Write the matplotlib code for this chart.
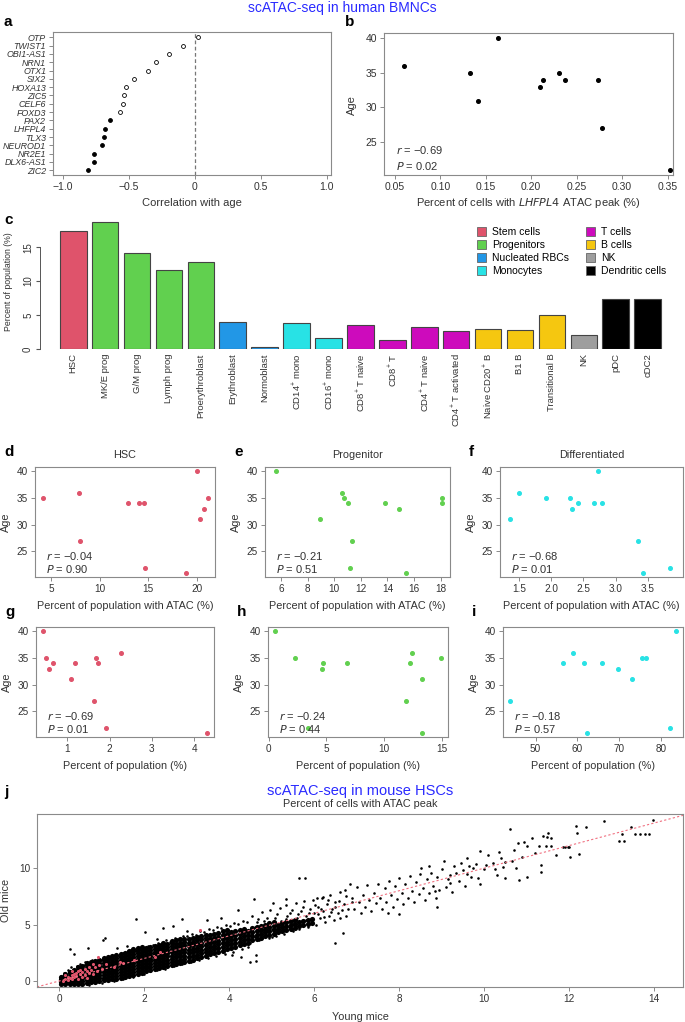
import matplotlib
matplotlib.use("Agg")
import matplotlib.pyplot as plt
from matplotlib.patches import Patch

W, H = 685, 1022
plt.rcParams['font.family'] = ['Liberation Sans', 'DejaVu Sans']
plt.rcParams['mathtext.default'] = 'regular'
NARROW = ['Liberation Sans Narrow', 'Liberation Sans', 'DejaVu Sans']

RED = '#DF536B'
GREEN = '#61D04F'
BLUE = '#2297E6'
CYAN = '#28E2E5'
MAGENTA = '#CD0BBC'
YELLOW = '#F5C710'
GREY = '#9E9E9E'
FRAME = '#8a8a8a'
TXT = '#333333'

# ---- panel a: correlation of gene ATAC peaks with age
genes = ['OTP', 'TWIST1', 'OBI1-AS1', 'NRN1', 'OTX1', 'SIX2', 'HOXA13', 'ZIC5', 'CELF6',
         'FOXD3', 'PAX2', 'LHFPL4', 'TLX3', 'NEUROD1', 'NR2E1', 'DLX6-AS1', 'ZIC2']
gene_corr = [0.03, -0.09, -0.19, -0.29, -0.35, -0.46, -0.52, -0.535, -0.545,
             -0.565, -0.64, -0.68, -0.685, -0.70, -0.765, -0.765, -0.81]
gene_signif = [False] * 10 + [True] * 7

# ---- panel b
lhfpl4_pct = [0.06, 0.133, 0.141, 0.163, 0.210, 0.213, 0.231, 0.237, 0.273, 0.278, 0.353]
lhfpl4_age = [36, 35, 31, 40, 33, 34, 35, 34, 34, 27, 21]

# ---- panel c
cell_types = ['HSC', 'MK/E prog', 'G/M prog', 'Lymph prog', 'Proerythroblast', 'Erythroblast',
              'Normoblast', 'CD14$^{+}$ mono', 'CD16$^{+}$ mono', 'CD8$^{+}$ T naive', 'CD8$^{+}$ T',
              'CD4$^{+}$ T naive', 'CD4$^{+}$ T activated', 'Naive CD20$^{+}$ B', 'B1 B',
              'Transitional B', 'NK', 'pDC', 'cDC2']
cell_pct = [17.4, 18.7, 14.1, 11.65, 12.8, 3.93, 0.25, 3.78, 1.67, 3.54, 1.28,
            3.2, 2.6, 2.9, 2.8, 5.0, 2.0, 7.33, 7.37]
cell_group = ['Stem cells', 'Progenitors', 'Progenitors', 'Progenitors', 'Progenitors',
              'Nucleated RBCs', 'Nucleated RBCs', 'Monocytes', 'Monocytes', 'T cells', 'T cells',
              'T cells', 'T cells', 'B cells', 'B cells', 'B cells', 'NK',
              'Dendritic cells', 'Dendritic cells']
group_names = ['Stem cells', 'Progenitors', 'Nucleated RBCs', 'Monocytes',
               'T cells', 'B cells', 'NK', 'Dendritic cells']
group_cols = [RED, GREEN, BLUE, CYAN, MAGENTA, YELLOW, GREY, 'black']

# ---- panels d-i (one value per donor)
hsc_atac = [4.1, 7.8, 8.0, 12.9, 14.0, 14.6, 14.7, 18.9, 20.0, 20.4, 20.8, 21.2]
hsc_atac_age = [35, 36, 27, 34, 34, 34, 22, 21, 40, 31, 33, 35]
prog_atac = [5.6, 8.9, 10.6, 10.7, 11.0, 11.3, 11.2, 13.8, 14.9, 15.4, 18.1, 18.1]
prog_atac_age = [40, 31, 36, 35, 34, 27, 22, 34, 33, 21, 35, 34]
diff_atac = [1.35, 1.49, 1.91, 2.29, 2.32, 2.42, 2.66, 2.72, 2.79, 3.35, 3.42, 3.85]
diff_atac_age = [31, 36, 35, 35, 33, 34, 34, 40, 34, 27, 21, 22]
hsc_pop = [0.42, 0.49, 0.56, 0.66, 1.09, 1.19, 1.64, 1.67, 1.73, 1.92, 2.27, 4.31]
hsc_pop_age = [40, 35, 33, 34, 31, 34, 27, 35, 34, 22, 36, 21]
prog_pop = [0.55, 2.31, 3.44, 4.6, 4.66, 6.8, 11.87, 12.26, 12.43, 13.26, 13.26, 14.93]
prog_pop_age = [40, 35, 22, 33, 34, 34, 27, 34, 36, 31, 21, 35]
diff_pop = [43.8, 56.6, 59.0, 61.6, 62.3, 66.0, 69.7, 73.1, 75.4, 76.4, 82.2, 83.7]
diff_pop_age = [27, 34, 36, 34, 21, 34, 33, 31, 35, 35, 22, 40]

# ---- panel j: mouse HSC peaks, (young, old) read off the cloud
# saturated core: young column -> old values in that column
core_young = [0.05, 0.15, 0.25, 0.35, 0.45, 0.55, 0.65, 0.75, 0.85, 0.95,
              1.05, 1.15, 1.25, 1.35, 1.45, 1.55, 1.65, 1.75, 1.85, 1.95,
              2.05, 2.15, 2.25, 2.35, 2.45, 2.55, 2.65, 2.75, 2.85, 2.95,
              3.05, 3.15, 3.25, 3.35, 3.45, 3.55, 3.65, 3.75, 3.85, 3.95,
              4.05, 4.15, 4.25, 4.35, 4.45, 4.55, 4.65, 4.75, 4.85, 4.95,
              5.05, 5.15, 5.25, 5.35, 5.45, 5.55, 5.65, 5.75, 5.85, 5.95]
core_old = [[-0.3, -0.05, 0.2, 0.4], [-0.3, -0.05, 0.2, 0.45, 0.6],
            [-0.3, -0.05, 0.2, 0.45, 0.7, 0.8], [-0.3, -0.04, 0.22, 0.48, 0.74, 1.0],
            [-0.28, -0.02, 0.24, 0.5, 0.76, 1.0, 1.2], [-0.22, 0.04, 0.3, 0.56, 0.82, 1.08, 1.34],
            [-0.15, 0.1, 0.36, 0.62, 0.88, 1.14, 1.4, 1.56],
            [-0.1, 0.16, 0.42, 0.68, 0.94, 1.2, 1.46, 1.68],
            [-0.05, 0.21, 0.47, 0.73, 0.99, 1.25, 1.51, 1.8],
            [0.0, 0.26, 0.52, 0.78, 1.04, 1.3, 1.56, 1.86],
            [0.05, 0.31, 0.57, 0.83, 1.09, 1.35, 1.61, 1.87, 2.05],
            [0.1, 0.36, 0.62, 0.88, 1.14, 1.4, 1.66, 1.92, 2.15],
            [0.15, 0.41, 0.67, 0.93, 1.19, 1.45, 1.71, 1.97, 2.25],
            [0.22, 0.48, 0.74, 1.0, 1.26, 1.52, 1.78, 2.04, 2.32],
            [0.3, 0.56, 0.82, 1.08, 1.34, 1.6, 1.86, 2.12, 2.42],
            [0.38, 0.64, 0.9, 1.16, 1.42, 1.68, 1.94, 2.2, 2.5],
            [0.46, 0.72, 0.98, 1.24, 1.5, 1.76, 2.02, 2.28, 2.56, 2.7],
            [0.55, 0.81, 1.07, 1.33, 1.59, 1.85, 2.11, 2.37, 2.63, 2.8],
            [0.65, 0.91, 1.17, 1.43, 1.69, 1.95, 2.21, 2.47, 2.73, 2.9],
            [0.75, 1.01, 1.27, 1.53, 1.79, 2.05, 2.31, 2.57, 2.83, 3.0],
            [0.85, 1.11, 1.37, 1.63, 1.89, 2.15, 2.41, 2.67, 2.93],
            [0.95, 1.21, 1.47, 1.73, 1.99, 2.25, 2.51, 2.77, 3.03],
            [1.05, 1.31, 1.57, 1.83, 2.09, 2.35, 2.61, 2.87, 3.13],
            [1.15, 1.41, 1.67, 1.93, 2.19, 2.45, 2.71, 2.97, 3.23],
            [1.25, 1.51, 1.77, 2.03, 2.29, 2.55, 2.81, 3.07, 3.33],
            [1.35, 1.62, 1.9, 2.18, 2.46, 2.74, 3.02, 3.3],
            [1.42, 1.7, 1.98, 2.26, 2.54, 2.82, 3.1, 3.38, 3.58],
            [1.5, 1.8, 2.1, 2.4, 2.7, 3.0, 3.3, 3.6],
            [1.58, 1.88, 2.18, 2.48, 2.78, 3.08, 3.38, 3.68],
            [1.66, 1.96, 2.26, 2.56, 2.86, 3.16, 3.46, 3.76],
            [1.8, 2.12, 2.44, 2.76, 3.08, 3.4, 3.72], [1.9, 2.22, 2.54, 2.86, 3.18, 3.5, 3.82],
            [2.0, 2.32, 2.64, 2.96, 3.28, 3.6, 3.92], [2.12, 2.44, 2.76, 3.08, 3.4, 3.72, 4.02],
            [2.24, 2.56, 2.88, 3.2, 3.52, 3.84, 4.12], [2.36, 2.7, 3.04, 3.38, 3.72, 4.06],
            [2.46, 2.8, 3.14, 3.48, 3.82, 4.16], [2.56, 2.9, 3.24, 3.58, 3.92, 4.26],
            [2.7, 3.05, 3.4, 3.75, 4.1, 4.4], [2.8, 3.15, 3.5, 3.85, 4.2, 4.5],
            [2.95, 3.3, 3.65, 4.0, 4.35], [3.05, 3.4, 3.75, 4.1, 4.45],
            [3.15, 3.5, 3.85, 4.2, 4.55], [3.3, 3.65, 4.0, 4.35, 4.65],
            [3.4, 3.75, 4.1, 4.45], [3.65, 4.0, 4.35, 4.7], [3.75, 4.1, 4.45, 4.8],
            [3.85, 4.2, 4.55, 4.9], [3.95, 4.3, 4.65, 5.0], [4.05, 4.4, 4.75, 5.1],
            [4.2, 4.55, 4.9, 5.2], [4.3, 4.65, 5.0], [4.4, 4.75, 5.1], [4.5, 4.85, 5.2],
            [4.6, 4.95, 5.3], [4.7, 5.05, 5.4], [4.85, 5.2], [4.95, 5.3], [5.05, 5.4],
            [5.15, 5.5]]
# halo just above / below the core, with the lone outliers of the low range
cloud_low = [(0.05, 0.45), (0.12, 0.75), (0.2, 0.95), (0.28, 1.25), (0.33, 0.95),
             (0.42, 1.3), (0.48, 1.55), (0.58, 1.4), (0.62, 1.7), (0.72, 1.55), (0.78, 1.85),
             (0.88, 1.75), (0.98, 1.9), (1.08, 2.05), (1.12, 1.85), (1.22, 2.1), (1.32, 2.3),
             (1.4, 2.2), (1.5, 2.45), (1.62, 2.5), (1.7, 2.75), (1.82, 2.65), (1.9, 2.95),
             (2.0, 2.85), (2.1, 3.1), (2.2, 3.2), (2.32, 3.35), (2.42, 3.25), (2.52, 3.6),
             (2.62, 3.5), (2.72, 3.8), (2.82, 3.7), (2.92, 4.0), (3.02, 3.95), (3.12, 4.2),
             (3.22, 4.1), (3.32, 4.4), (3.42, 4.3), (3.52, 4.6), (3.62, 4.5), (3.72, 4.8),
             (3.82, 4.7), (3.92, 5.0), (4.02, 4.9), (4.12, 5.15), (4.22, 5.05), (4.32, 5.3),
             (4.42, 5.25),
             (0.7, -0.35), (1.0, -0.2), (1.3, 0.0), (1.5, 0.15), (1.75, 0.4), (2.0, 0.6),
             (2.15, 0.85), (2.3, 0.95), (2.5, 1.1), (2.7, 1.35), (2.9, 1.5), (3.1, 1.65),
             (3.3, 1.85), (3.5, 2.05), (3.7, 2.2), (3.9, 2.4), (4.1, 2.6), (4.3, 2.8),
             (4.45, 3.0),
             (0.25, 2.83), (0.35, 2.36), (0.68, 2.95), (1.03, 3.6), (1.07, 3.83), (1.36, 2.89),
             (1.8, 5.46), (2.01, 4.31), (2.45, 4.66), (2.68, 4.9), (2.88, 5.46), (3.48, 5.4),
             (3.82, 5.55), (4.21, 6.28), (4.58, 7.3), (4.06, 2.3), (4.27, 2.15), (4.49, 1.71),
             (4.64, 1.8), (4.64, 2.3), (1.6, 3.1), (2.3, 3.7), (3.0, 4.4)]
cloud_mid = [(4.5, 3.4), (4.52, 4.6), (4.55, 5.8), (4.6, 3.9), (4.66, 5.2), (4.7, 3.6),
             (4.73, 4.4), (4.78, 6.1), (4.8, 4.9), (4.86, 4.1), (4.9, 5.6), (4.93, 3.8),
             (4.97, 6.3), (5.0, 4.6), (5.05, 5.2), (5.1, 4.0), (5.12, 5.9), (5.16, 4.4),
             (5.2, 6.5), (5.25, 5.0), (5.3, 4.2), (5.33, 5.5), (5.35, 6.7), (5.4, 4.8),
             (5.44, 6.0), (5.5, 4.4), (5.52, 5.1), (5.57, 6.9), (5.6, 5.6), (5.65, 4.6),
             (5.7, 6.2), (5.72, 5.3), (5.76, 7.1), (5.8, 5.8), (5.85, 4.8), (5.9, 6.4),
             (5.93, 5.5), (5.97, 7.2), (6.0, 6.0), (6.04, 4.95), (6.1, 6.6), (6.13, 5.6),
             (6.18, 7.4), (6.21, 6.2), (6.25, 5.2), (6.3, 6.8), (6.34, 5.8), (6.38, 7.6),
             (6.42, 6.4), (6.46, 5.4), (6.5, 7.0), (6.5, 3.39), (6.56, 6.0), (6.6, 7.9),
             (6.65, 6.3), (6.67, 4.28), (6.7, 6.8), (6.72, 8.05), (6.76, 5.8), (6.84, 8.64),
             (6.9, 7.4), (6.95, 6.4), (7.0, 8.3), (7.06, 7.0), (7.1, 6.0), (7.15, 7.6),
             (7.2, 6.6), (7.25, 8.5), (7.3, 7.2), (7.35, 6.2), (7.4, 7.8), (7.46, 6.9),
             (7.5, 8.6), (7.55, 7.4), (7.6, 6.4), (7.66, 8.2), (7.7, 7.0), (7.76, 8.9),
             (7.8, 7.6), (7.85, 6.6), (7.9, 8.4), (7.96, 7.3), (8.0, 9.1), (8.06, 7.8),
             (8.1, 6.8), (8.15, 8.6), (8.2, 7.4), (8.26, 9.3), (8.3, 8.0), (8.36, 7.0),
             (8.4, 8.8), (8.46, 7.7), (8.5, 9.5), (8.56, 8.2), (8.6, 7.2), (8.66, 9.0),
             (8.7, 7.8), (8.75, 9.6), (8.8, 8.4), (8.86, 7.4), (8.9, 9.2), (8.95, 8.1),
             (5.04, 6.87), (5.35, 7.26), (5.65, 9.09), (5.78, 9.09), (6.06, 7.32), (6.21, 7.46),
             (4.55, 4.2), (4.62, 4.8), (4.68, 5.5), (4.75, 3.9), (4.83, 5.3), (4.88, 4.5),
             (4.95, 5.0), (5.02, 3.9), (5.08, 5.6), (5.14, 4.8), (5.22, 5.3), (5.28, 4.6),
             (5.36, 5.8), (5.42, 5.2), (5.48, 6.3), (5.55, 4.9), (5.62, 5.9), (5.68, 5.0),
             (5.74, 6.6), (5.82, 5.4), (5.88, 6.0), (5.95, 5.1), (6.02, 6.7), (6.08, 5.9),
             (6.16, 6.4), (6.24, 5.7), (6.32, 7.2), (6.4, 6.1), (6.48, 6.6), (6.58, 7.1),
             (6.62, 5.6), (6.74, 7.5), (6.8, 6.4), (6.88, 7.0),
             (7.73, 6.04), (7.99, 5.9), (8.88, 6.6), (8.52, 10.0), (8.7, 10.2), (8.85, 8.0)]
cloud_high = [(9.0, 9.9), (9.05, 10.6), (9.1, 8.3), (9.15, 9.0), (9.2, 9.4), (9.2, 8.7),
              (9.25, 7.9), (9.3, 10.2), (9.35, 9.6), (9.4, 8.9), (9.45, 10.5), (9.5, 9.8),
              (9.55, 8.4), (9.6, 10.9), (9.6, 9.5), (9.65, 10.2), (9.7, 9.2), (9.75, 10.0),
              (9.8, 10.4), (9.85, 9.1), (9.9, 8.6), (9.9, 11.5), (10.0, 9.9), (10.05, 10.3),
              (10.1, 11.2), (10.2, 10.5), (10.25, 9.9), (10.3, 9.4), (10.35, 11.4),
              (10.4, 10.9), (10.45, 10.1), (10.5, 10.56), (10.5, 9.14), (10.6, 13.5),
              (10.65, 10.6), (10.7, 11.6), (10.75, 10.0), (10.8, 12.2), (10.82, 8.94),
              (10.9, 11.0), (10.93, 12.3), (11.0, 9.23), (11.0, 12.0), (11.12, 12.7),
              (11.2, 11.3), (11.3, 12.0), (11.35, 9.67), (11.35, 10.27), (11.39, 12.83),
              (11.45, 12.0), (11.47, 12.74), (11.5, 13.1), (11.57, 12.0), (11.58, 12.68),
              (11.7, 11.2), (11.85, 11.9), (11.9, 11.9), (11.98, 11.86), (12.0, 11.86),
              (12.02, 10.95), (12.17, 13.7), (12.19, 13.1), (12.24, 11.27), (12.4, 13.65),
              (12.81, 14.2), (13.18, 12.39), (13.24, 13.0), (13.3, 12.45), (13.46, 13.65),
              (13.55, 13.0), (13.67, 13.0), (13.78, 13.0), (13.89, 13.0), (13.97, 14.27)]
# highlighted peaks (red)
cloud_red = [(0.1, 0.0), (0.15, 0.2), (0.2, 0.1), (0.2, 0.4), (0.25, 0.3), (0.3, 0.5),
             (0.3, 0.15), (0.35, 0.6), (0.35, 0.35), (0.4, 0.7), (0.4, 0.45), (0.45, 0.9),
             (0.45, 0.2), (0.5, 0.6), (0.5, 1.0), (0.55, 0.8), (0.6, 0.5), (0.6, 1.1),
             (0.65, 0.9), (0.7, 0.7), (0.7, 1.2), (0.75, 1.0), (0.8, 0.6), (0.85, 1.2),
             (0.9, 0.9), (0.95, 1.4), (1.0, 1.1), (0.55, 0.35), (0.65, 0.3), (0.3, 0.85),
             (0.15, 0.55), (0.91, 2.12), (1.1, 1.5), (1.3, 1.2), (1.5, 1.6), (2.25, 2.15),
             (3.31, 4.51), (0.8, 1.55), (1.43, 1.65), (1.77, 1.9), (2.37, 2.6)]

fig = plt.figure(figsize=(W / 100, H / 100), dpi=100)


def px_axes(l, t, r, b):
    return fig.add_axes([l / W, 1 - b / H, (r - l) / W, (b - t) / H])


def ftext(x, y, s, **kw):
    kw.setdefault('ha', 'center')
    kw.setdefault('va', 'center')
    return fig.text(x / W, 1 - y / H, s, **kw)


def rbox(ax):
    for sp in ax.spines.values():
        sp.set_color(FRAME)
        sp.set_linewidth(0.8)
    ax.tick_params(color=FRAME, length=3, width=0.7, labelcolor=TXT, pad=2)


ftext(342, 8, 'scATAC-seq in human BMNCs', color='#2a2aff', fontsize=10)

# a
ax = px_axes(53, 32, 331, 175)
ypos = [len(genes) - 1 - i for i in range(len(genes))]
for c, y, s in zip(gene_corr, ypos, gene_signif):
    ax.plot(c, y, 'o', ms=2.8, mew=0.6, mec='black', mfc='black' if s else 'white')
ax.axvline(0, color='#777777', ls='--', lw=0.9, dashes=(3, 2))
ax.set_xlim(-1.072, 1.034)
ax.set_ylim(-0.57, 16.64)
ax.set_xticks([-1.0, -0.5, 0, 0.5, 1.0])
ax.set_xticklabels(['\u22121.0', '\u22120.5', '0', '0.5', '1.0'], fontsize=7.5)
ax.set_yticks(ypos)
ax.set_yticklabels(genes, fontsize=6.4, style='italic')
rbox(ax)
ftext(192, 203, 'Correlation with age', fontsize=8, color=TXT)
ftext(4, 22, 'a', fontsize=11, fontweight='bold', ha='left')

# b
ax = px_axes(384, 33, 673, 175)
ax.plot(lhfpl4_pct, lhfpl4_age, 'o', ms=2.6, color='black')
ax.set_xlim(0.038, 0.356)
ax.set_ylim(20.24, 40.76)
ax.set_xticks([0.05, 0.10, 0.15, 0.20, 0.25, 0.30, 0.35])
ax.set_xticklabels(['0.05', '0.10', '0.15', '0.20', '0.25', '0.30', '0.35'], fontsize=7.5)
ax.set_yticks([25, 30, 35, 40])
ax.set_yticklabels(['25', '30', '35', '40'], fontsize=7.5)
rbox(ax)
ax.text(0.04, 0.175, '$\\it{r}$ = \u22120.69', transform=ax.transAxes, fontsize=8,
        va='center', color=TXT)
ax.text(0.04, 0.06, '$\\it{P}$ = 0.02', transform=ax.transAxes, fontsize=8,
        va='center', color=TXT)
ftext(352, 105, 'Age', rotation=90, fontsize=8, color=TXT)
ftext(528, 203, 'Percent of cells with $\\it{LHFPL4}$ ATAC peak (%)', fontsize=8, color=TXT)
ftext(345, 22, 'b', fontsize=11, fontweight='bold', ha='left')

# c
ax = px_axes(40, 218, 683, 349)
xs = [0.7 + 1.2 * i for i in range(len(cell_types))]
cols = [group_cols[group_names.index(g)] for g in cell_group]
ax.bar(xs, cell_pct, width=1.0, color=cols, edgecolor='#444444', linewidth=0.8)
ax.set_xlim(-0.55, 23.63)
ax.set_ylim(0, 19.3)
for s in ['top', 'right', 'bottom']:
    ax.spines[s].set_visible(False)
ax.spines['left'].set_bounds(0, 15)
ax.spines['left'].set_color('#555555')
ax.spines['left'].set_linewidth(0.7)
ax.set_yticks([0, 5, 10, 15])
ax.set_yticklabels(['0', '5', '10', '15'], rotation=90, va='center', fontsize=7)
ax.tick_params(axis='y', length=3, color='#555555', labelcolor=TXT, pad=2)
ax.set_xticks(xs)
ax.set_xticklabels(cell_types, rotation=90, fontsize=6.8, color=TXT)
ax.tick_params(axis='x', length=0, pad=3)
ftext(9, 282, 'Percent of population (%)', rotation=90, fontsize=6.3, color=TXT)
handles = [Patch(facecolor=c, edgecolor='#666666', linewidth=0.6) for c in group_cols]
fig.legend(handles, group_names, ncol=2,
           loc='upper left', bbox_to_anchor=(477 / W, 1 - 227 / H), frameon=False,
           fontsize=7.5, handlelength=0.9, handleheight=0.9, handletextpad=0.55,
           labelspacing=0.3, columnspacing=1.6, borderaxespad=0, borderpad=0)
ftext(4, 220, 'c', fontsize=11, fontweight='bold', ha='left')

# d - i
panels = [
    ((35, 467, 215, 577), hsc_atac, hsc_atac_age, RED, (3.3, 21.9), [5, 10, 15, 20],
     '\u22120.04', '0.90', 'HSC', 'Percent of population with ATAC (%)', 'd'),
    ((265, 467, 450, 577), prog_atac, prog_atac_age, GREEN, (4.8, 18.7),
     [6, 8, 10, 12, 14, 16, 18], '\u22120.21', '0.51', 'Progenitor',
     'Percent of population with ATAC (%)', 'e'),
    ((500, 467, 683, 577), diff_atac, diff_atac_age, CYAN, (1.2, 4.05),
     [1.5, 2.0, 2.5, 3.0, 3.5], '\u22120.68', '0.01', 'Differentiated',
     'Percent of population with ATAC (%)', 'f'),
    ((36, 627, 214, 737), hsc_pop, hsc_pop_age, RED, (0.26, 4.47), [1, 2, 3, 4],
     '\u22120.69', '0.01', None, 'Percent of population (%)', 'g'),
    ((268, 627, 448, 737), prog_pop, prog_pop_age, GREEN, (-0.05, 15.5), [0, 5, 10, 15],
     '\u22120.24', '0.44', None, 'Percent of population (%)', 'h'),
    ((503, 627, 683, 737), diff_pop, diff_pop_age, CYAN, (42.2, 85.3), [50, 60, 70, 80],
     '\u22120.18', '0.57', None, 'Percent of population (%)', 'i'),
]
for box, xv, yv, col, xlim, xt, rtxt, ptxt, title, xlab, lab in panels:
    ax = px_axes(*box)
    ax.plot(xv, yv, 'o', ms=2.6, color=col)
    ax.set_xlim(*xlim)
    ax.set_ylim(20.24, 40.76)
    ax.set_xticks(xt)
    ax.set_xticklabels([str(v) for v in xt], fontsize=7.2, family=NARROW)
    ax.set_yticks([25, 30, 35, 40])
    ax.set_yticklabels(['25', '30', '35', '40'], fontsize=7.2, family=NARROW)
    rbox(ax)
    ax.text(0.06, 0.19, '$\\it{r}$ = ' + rtxt, transform=ax.transAxes, fontsize=8,
            va='center', color=TXT, family=NARROW)
    ax.text(0.06, 0.07, '$\\it{P}$ = ' + ptxt, transform=ax.transAxes, fontsize=8,
            va='center', color=TXT, family=NARROW)
    l, t, r, b = box
    if title:
        ftext((l + r) / 2, t - 12, title, fontsize=7.8, color=TXT, family=NARROW)
    ftext((l + r) / 2, b + 29, xlab, fontsize=7.8, color=TXT, family=NARROW)
    ftext(l - 29, (t + b) / 2, 'Age', rotation=90, fontsize=7.8, color=TXT, family=NARROW)
    ftext(l - 31, t - 15, lab, fontsize=11, fontweight='bold', ha='left')

# j
ax = px_axes(37, 814, 683, 987)
cx, cy = [], []
for x, ys in zip(core_young, core_old):
    for y in ys:
        cx.append(x)
        cy.append(y)
ax.scatter(cx, cy, s=14, color='black', linewidths=0)
pts = cloud_low + cloud_mid + cloud_high
ax.scatter([p[0] for p in pts], [p[1] for p in pts], s=3.5, color='black', linewidths=0)
ax.scatter([p[0] for p in cloud_red], [p[1] for p in cloud_red], s=5, color=RED,
           linewidths=0)
ax.axline((0, 0), slope=1, color='#f07080', ls='--', lw=0.8, dashes=(2, 2))
ax.set_xlim(-0.52, 14.68)
ax.set_ylim(-0.53, 14.8)
ax.set_xticks(range(0, 15, 2))
ax.set_xticklabels([str(v) for v in range(0, 15, 2)], fontsize=7.2, family=NARROW)
ax.set_yticks([0, 5, 10])
ax.set_yticklabels(['0', '5', '10'], fontsize=7.2, family=NARROW)
rbox(ax)
ftext(360, 1017, 'Young mice', fontsize=7.8, color=TXT, family=NARROW)
ftext(6, 900, 'Old mice', rotation=90, fontsize=7.8, color=TXT, family=NARROW)
ftext(360, 791, 'scATAC-seq in mouse HSCs', color='#2a2aff', fontsize=10.5, family=NARROW)
ftext(360, 804, 'Percent of cells with ATAC peak', color=TXT, fontsize=7.8, family=NARROW)
ftext(4, 792, 'j', fontsize=11, fontweight='bold', ha='left')

fig.savefig('out.png', dpi=100)
